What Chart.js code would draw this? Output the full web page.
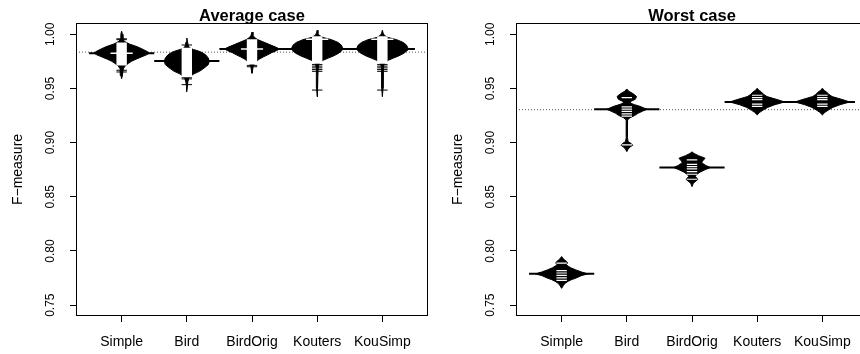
<!DOCTYPE html>
<html>
<head>
<meta charset="utf-8">
<script src="https://cdn.jsdelivr.net/npm/chart.js@4/dist/chart.umd.min.js"></script>
<style>
  html, body { margin:0; padding:0; width:860px; height:354px; overflow:hidden; background:#fff; }
  #wrap { position:relative; width:860px; height:354px; overflow:hidden; }
  canvas { position:absolute; top:0; }
  #c1 { left:0; }
  #c2 { left:440px; }
</style>
</head>
<body>
<div id="wrap">
  <canvas id="c1" width="440" height="354"></canvas>
  <canvas id="c2" width="440" height="354"></canvas>
</div>
<script>
// ---------------- data ----------------
const categories = ['Simple', 'Bird', 'BirdOrig', 'Kouters', 'KouSimp'];
const yTickValues = [0.75, 0.80, 0.85, 0.90, 0.95, 1.00];

// Average case
const avgOverall = 0.9835;
const avgMeans = [0.9824, 0.9754, 0.9865, 0.9865, 0.9865];
// bean density outline: [F-measure, half width]
const avgBeanSimple = [[1.0028,0],[1.000,0.012],[0.9955,0.02],[0.9935,0.04],[0.991,0.12],[0.9885,0.24],[0.986,0.33],[0.9838,0.40],[0.9824,0.42],[0.981,0.38],[0.979,0.30],[0.977,0.22],[0.975,0.15],[0.973,0.10],[0.9705,0.05],[0.968,0.025],[0.965,0.018],[0.962,0.012],[0.959,0]];
const avgBeanBird = [[0.9965,0],[0.993,0.012],[0.990,0.02],[0.9875,0.04],[0.986,0.10],[0.9845,0.18],[0.983,0.24],[0.981,0.29],[0.978,0.33],[0.975,0.345],[0.972,0.33],[0.969,0.27],[0.966,0.20],[0.9635,0.11],[0.9615,0.06],[0.959,0.03],[0.956,0.015],[0.952,0.01],[0.947,0]];
const avgBeanBirdOrig = [[1.0021,0],[0.999,0.015],[0.997,0.04],[0.995,0.09],[0.993,0.17],[0.9905,0.27],[0.988,0.37],[0.9865,0.42],[0.985,0.38],[0.983,0.30],[0.981,0.24],[0.979,0.17],[0.977,0.11],[0.975,0.07],[0.973,0.04],[0.971,0.02],[0.968,0.012],[0.964,0]];
const avgBeanKouters = [[1.0037,0],[1.001,0.012],[0.999,0.03],[0.997,0.09],[0.995,0.22],[0.9925,0.32],[0.990,0.37],[0.9875,0.39],[0.985,0.38],[0.9825,0.33],[0.980,0.25],[0.978,0.17],[0.976,0.09],[0.974,0.045],[0.972,0.025],[0.969,0.015],[0.960,0.01],[0.950,0.01],[0.9424,0]];
const avgBeanKouSimp = [[1.0037,0],[1.001,0.012],[0.999,0.03],[0.997,0.09],[0.995,0.22],[0.9925,0.32],[0.990,0.37],[0.9875,0.39],[0.985,0.38],[0.9825,0.33],[0.980,0.25],[0.978,0.17],[0.976,0.09],[0.974,0.045],[0.972,0.025],[0.969,0.015],[0.960,0.01],[0.950,0.01],[0.9424,0]];
// observations inside the beans (white lines)
const avgObsSimple = [0.9913,0.9895,0.9877,0.9860,0.9841,0.9823,0.9806,0.9787,0.9769,0.9751,0.9734,0.9722];
const avgObsBird = [0.9866,0.9848,0.9830,0.9812,0.9795,0.9776,0.9758,0.9740,0.9722,0.9705,0.9686,0.9668,0.9650,0.9632,0.9614];
const avgObsBirdOrig = [0.9944,0.9926,0.9908,0.9890,0.9872,0.9854,0.9836,0.9818,0.9800,0.9782,0.9764,0.9746,0.9731];
const avgObsKouters = [0.9972,0.9954,0.9936,0.9918,0.9900,0.9882,0.9864,0.9846,0.9828,0.9810,0.9792,0.9774,0.9756,0.9738];
const avgObsKouSimp = [0.9972,0.9954,0.9936,0.9918,0.9900,0.9882,0.9864,0.9846,0.9828,0.9810,0.9792,0.9774,0.9756,0.9738];
// observations in the tails (black lines)
const avgTailSimple = [0.9958,0.9950,0.9668,0.9652];
const avgTailBird = [0.9901,0.9600,0.9588,0.9535];
const avgTailBirdOrig = [0.9713,0.9700];
const avgTailKouters = [0.9722,0.9706,0.9690,0.9674,0.9658,0.9485];
const avgTailKouSimp = [0.9722,0.9706,0.9690,0.9674,0.9658,0.9485];
// tied observations (longer white lines)
const avgTiedSimple = [0.9824];
const avgTiedBird = [];
const avgTiedBirdOrig = [0.9865];
const avgTiedKouters = [0.9955];
const avgTiedKouSimp = [0.9955];

// Worst case
const worstOverall = 0.9304;
const worstMeans = [0.7789, 0.9308, 0.8770, 0.9375, 0.9375];
const worstBeanSimple = [[0.7948,0],[0.7925,0.03],[0.790,0.08],[0.7888,0.09],[0.7875,0.07],[0.786,0.10],[0.7845,0.14],[0.7825,0.22],[0.7805,0.31],[0.7789,0.40],[0.7772,0.30],[0.775,0.22],[0.7735,0.15],[0.772,0.10],[0.770,0.05],[0.768,0.025],[0.7655,0]];
const worstBeanBird = [[0.9495,0],[0.9475,0.03],[0.945,0.10],[0.9425,0.15],[0.940,0.13],[0.938,0.06],[0.9365,0.05],[0.935,0.12],[0.9335,0.20],[0.932,0.26],[0.9308,0.31],[0.929,0.24],[0.927,0.17],[0.925,0.12],[0.923,0.05],[0.921,0.012],[0.915,0.008],[0.905,0.008],[0.901,0.02],[0.899,0.07],[0.8975,0.09],[0.896,0.05],[0.894,0.02],[0.8917,0]];
const worstBeanBirdOrig = [[0.8915,0],[0.890,0.03],[0.888,0.10],[0.8856,0.20],[0.8835,0.17],[0.882,0.15],[0.881,0.16],[0.879,0.21],[0.877,0.28],[0.875,0.20],[0.873,0.13],[0.871,0.08],[0.869,0.05],[0.8675,0.07],[0.866,0.09],[0.8645,0.06],[0.8625,0.02],[0.8594,0]];
const worstBeanKouters = [[0.9502,0],[0.948,0.03],[0.947,0.06],[0.9445,0.10],[0.9425,0.15],[0.9395,0.32],[0.9375,0.42],[0.935,0.27],[0.9325,0.16],[0.930,0.09],[0.928,0.04],[0.9256,0]];
const worstBeanKouSimp = [[0.9502,0],[0.948,0.03],[0.947,0.06],[0.9445,0.10],[0.9425,0.15],[0.9395,0.32],[0.9375,0.42],[0.935,0.27],[0.9325,0.16],[0.930,0.09],[0.928,0.04],[0.9256,0]];
const worstObsSimple = [0.7888,0.7818,0.7797,0.7775,0.7751,0.7729];
const worstObsBird = [0.9415,0.9330,0.9310,0.9288,0.9266,0.9245,0.8979];
const worstObsBirdOrig = [0.8840,0.8800,0.8779,0.8757,0.8732,0.8708,0.8662];
const worstObsKouters = [0.9437,0.9416,0.9396,0.9355,0.9335];
const worstObsKouSimp = [0.9437,0.9416,0.9396,0.9355,0.9335];
const worstTailSimple = [];
const worstTailBird = [];
const worstTailBirdOrig = [];
const worstTailKouters = [];
const worstTailKouSimp = [];
const worstTiedSimple = [];
const worstTiedBird = [];
const worstTiedBirdOrig = [];
const worstTiedKouters = [];
const worstTiedKouSimp = [];

// ---------------- drawing ----------------
const FONT = "'Liberation Sans', Arial, Helvetica, sans-serif";
Chart.defaults.color = '#000';
Chart.defaults.font.family = FONT;

function segPoints(rows, half) {
  const pts = [];
  rows.forEach((vals, i) => {
    vals.forEach(v => {
      pts.push({x: i + 1 - half, y: v}, {x: i + 1 + half, y: v}, {x: NaN, y: NaN});
    });
  });
  return pts;
}
function beanPoints(profile, i) {
  const c = i + 1;
  const right = profile.map(p => ({x: c + p[1], y: p[0]}));
  const left = profile.slice().reverse().map(p => ({x: c - p[1], y: p[0]}));
  return right.concat(left);
}
const lineBase = {pointRadius: 0, pointHoverRadius: 0, tension: 0, spanGaps: false, fill: false};

const boxPlugin = {
  id: 'box',
  afterDraw(chart) {
    const a = chart.chartArea, ctx = chart.ctx;
    ctx.save();
    ctx.strokeStyle = '#000';
    ctx.lineWidth = 1;
    ctx.strokeRect(Math.round(a.left) + 0.5, Math.round(a.top) + 0.5,
                   Math.round(a.right - a.left) - 1, Math.round(a.bottom - a.top) - 1);
    ctx.restore();
  }
};

function makeChart(id, title, beans, means, overall, obs, tails, tied, whiteWidth) {
  const datasets = [];
  datasets.push(Object.assign({}, lineBase, {
    data: [{x: 0.3, y: overall}, {x: 5.7, y: overall}],
    borderColor: '#555', borderWidth: 1, borderDash: [1, 2], order: 10
  }));
  beans.forEach((b, i) => {
    datasets.push(Object.assign({}, lineBase, {
      data: beanPoints(b, i), fill: 'shape',
      backgroundColor: '#000', borderColor: '#000', borderWidth: 1, order: 9
    }));
  });
  datasets.push(Object.assign({}, lineBase, {
    data: segPoints(means.map(m => [m]), 0.5),
    borderColor: '#000', borderWidth: 2, order: 8
  }));
  datasets.push(Object.assign({}, lineBase, {
    data: segPoints(tails, 0.08),
    borderColor: '#000', borderWidth: 1, order: 7
  }));
  datasets.push(Object.assign({}, lineBase, {
    data: segPoints(obs, 0.08),
    borderColor: '#fff', borderWidth: whiteWidth, order: 6
  }));
  datasets.push(Object.assign({}, lineBase, {
    data: segPoints(tied, 0.17),
    borderColor: '#fff', borderWidth: 1.5, order: 5
  }));

  return new Chart(document.getElementById(id), {
    type: 'line',
    data: {datasets},
    plugins: [boxPlugin],
    options: {
      responsive: false,
      animation: false,
      devicePixelRatio: 1,
      layout: {padding: {left: 0, right: 12, top: 0, bottom: 0}},
      plugins: {
        legend: {display: false},
        tooltip: {enabled: false},
        title: {
          display: true, text: title, fullSize: false,
          font: {size: 16.5, weight: 'bold', family: FONT, lineHeight: 1},
          padding: {top: 8, bottom: -1.5}, color: '#000'
        }
      },
      scales: {
        x: {
          type: 'linear', min: 0.3, max: 5.7,
          afterBuildTicks: s => { s.ticks = categories.map((c, i) => ({value: i + 1})); },
          afterFit: s => { s.height = 38; },
          ticks: {
            autoSkip: false, maxRotation: 0, minRotation: 0, padding: 12,
            font: {size: 14, family: FONT}, color: '#000',
            callback: v => categories[Math.round(v) - 1]
          },
          grid: {drawOnChartArea: false, drawTicks: true, tickLength: 6, color: '#000', tickColor: '#000', lineWidth: 1},
          border: {display: false}
        },
        y: {
          type: 'linear', min: 0.74, max: 1.0104,
          afterBuildTicks: s => { s.ticks = yTickValues.map(v => ({value: v})); },
          afterFit: s => { s.width = 76; },
          ticks: {
            autoSkip: false, minRotation: 90, maxRotation: 90, crossAlign: 'center', padding: 8,
            font: {size: 12, family: FONT}, color: '#000',
            callback: v => Number(v).toFixed(2)
          },
          title: {display: true, text: 'F\u2212measure', font: {size: 14, family: FONT}, padding: {top: 10, bottom: 0}, color: '#000'},
          grid: {drawOnChartArea: false, drawTicks: true, tickLength: 6, color: '#000', tickColor: '#000', lineWidth: 1},
          border: {display: false}
        }
      }
    }
  });
}

makeChart('c1', 'Average case',
  [avgBeanSimple, avgBeanBird, avgBeanBirdOrig, avgBeanKouters, avgBeanKouSimp],
  avgMeans, avgOverall,
  [avgObsSimple, avgObsBird, avgObsBirdOrig, avgObsKouters, avgObsKouSimp],
  [avgTailSimple, avgTailBird, avgTailBirdOrig, avgTailKouters, avgTailKouSimp],
  [avgTiedSimple, avgTiedBird, avgTiedBirdOrig, avgTiedKouters, avgTiedKouSimp], 2.2);

makeChart('c2', 'Worst case',
  [worstBeanSimple, worstBeanBird, worstBeanBirdOrig, worstBeanKouters, worstBeanKouSimp],
  worstMeans, worstOverall,
  [worstObsSimple, worstObsBird, worstObsBirdOrig, worstObsKouters, worstObsKouSimp],
  [worstTailSimple, worstTailBird, worstTailBirdOrig, worstTailKouters, worstTailKouSimp],
  [worstTiedSimple, worstTiedBird, worstTiedBirdOrig, worstTiedKouters, worstTiedKouSimp], 1.2);
</script>
</body>
</html>
